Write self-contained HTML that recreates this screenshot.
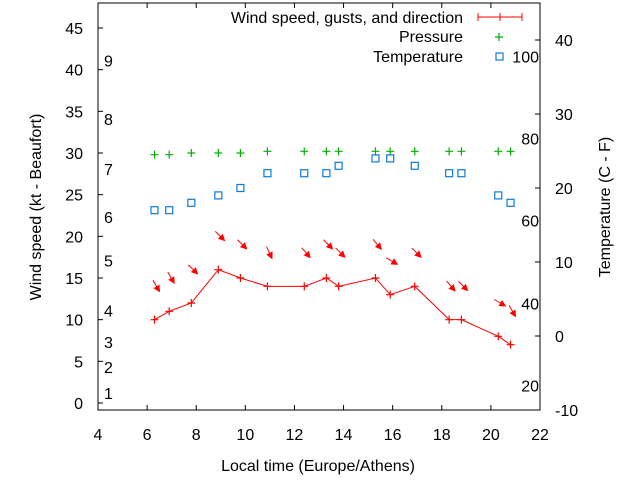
<!DOCTYPE html>
<html><head><meta charset="utf-8"><style>
html,body{margin:0;padding:0;background:#fff}
svg{display:block;font-family:"Liberation Sans",sans-serif}
</style></head><body>
<svg id="chart" width="640" height="480" xmlns="http://www.w3.org/2000/svg">
<g id="axes"></g><g id="marks"></g><g id="legend"></g>
</svg>
<script>
const times=[6.3,6.9,7.8,8.9,9.8,10.9,12.4,13.3,13.8,15.3,15.9,16.9,18.3,18.8,20.3,20.8];
const windSpeed=[10,11,12,16,15,14,14,15,14,15,13,14,10,10,8,7];
const windDir=[330,330,315,315,315,335,320,315,315,320,300,315,320,315,300,330];
const pressure=[29.8,29.8,30,30,30,30.2,30.2,30.2,30.2,30.2,30.2,30.2,30.2,30.2,30.2,30.2];
const temperature=[17,17,18,19,20,22,22,22,23,24,24,23,22,22,19,18];
const xTicks=[4,6,8,10,12,14,16,18,20,22];
const yTicks=[0,5,10,15,20,25,30,35,40,45];
const y2Ticks=[-10,0,10,20,30,40];
const beaufortLabels=[["1",1.2],["2",4.3],["3",7.3],["4",11.1],["5",17.1],["6",22.3],["7",28.1],["8",34.1],["9",41.1]];
const fahrLabels=[[20,-6.7],[40,4.4],[60,15.6],[80,26.7],[100,37.8]];

const L=98,R=540,T=3,B=410,FS=16;
const X=v=>L+(v-4)*(R-L)/18;
const Y=v=>403-v*375/45;
const Y2=v=>336-v*7.4;
const NS="http://www.w3.org/2000/svg";
function mk(p,tag,attrs,text){const e=document.createElementNS(NS,tag);for(const k in attrs)e.setAttribute(k,attrs[k]);if(text!==undefined)e.textContent=text;p.appendChild(e);return e;}
const ax=document.getElementById('axes'),mg=document.getElementById('marks'),lg=document.getElementById('legend');

let r=mk(ax,'rect',{x:L,y:T,width:R-L,height:B-T,fill:'none',stroke:'#000','stroke-width':1});

xTicks.forEach(v=>{
  mk(ax,'line',{x1:X(v),x2:X(v),y1:B,y2:B-5,stroke:'#000'});
  mk(ax,'line',{x1:X(v),x2:X(v),y1:T,y2:T+5,stroke:'#000'});
  const t=mk(ax,'text',{x:X(v),y:440,'text-anchor':'middle','font-size':FS},v);
  
});
yTicks.forEach(v=>{
  mk(ax,'line',{x1:L,x2:L+5,y1:Y(v),y2:Y(v),stroke:'#000'});
  const t=mk(ax,'text',{x:83,y:Y(v)+6,'text-anchor':'end','font-size':FS},v);
  
});
y2Ticks.forEach(v=>{
  mk(ax,'line',{x1:R,x2:R-5,y1:Y2(v),y2:Y2(v),stroke:'#000'});
  const t=mk(ax,'text',{x:555,y:Y2(v)+6,'text-anchor':'start','font-size':FS},v);
  
});
beaufortLabels.forEach(([s,v])=>{
  const t=mk(ax,'text',{x:104,y:Y(v)+6,'font-size':FS},s);
  
});
fahrLabels.forEach(([s,v])=>{
  const t=mk(ax,'text',{x:539,y:Y2(v)+6,'text-anchor':'end','font-size':FS},s);
  
});
let t=mk(ax,'text',{x:318,y:471,'text-anchor':'middle','font-size':FS},'Local time (Europe/Athens)');

t=mk(ax,'text',{x:0,y:0,'text-anchor':'middle','font-size':FS,transform:'translate(41,207) rotate(-90)'},'Wind speed (kt - Beaufort)');

t=mk(ax,'text',{x:0,y:0,'text-anchor':'middle','font-size':FS,transform:'translate(610,207) rotate(-90)'},'Temperature (C - F)');


const pts=times.map((tm,i)=>X(tm)+','+Y(windSpeed[i])).join(' ');
let pl=mk(mg,'polyline',{points:pts,fill:'none',stroke:'#f00','stroke-width':1});

times.forEach((tm,i)=>{
  const x=X(tm),y=Y(windSpeed[i]);
  const g=mk(mg,'path',{d:`M${x-4},${y}h8M${x},${y-4}v8`,stroke:'#f00','stroke-width':1.2});
  
  const ang=(windDir[i]-180)*Math.PI/180;
  const dx=Math.sin(ang),dy=-Math.cos(ang);
  const cx=x+2,cy=Y(windSpeed[i]+4),len=7;
  const x1=cx-dx*len,y1=cy-dy*len,x2=cx+dx*len,y2=cy+dy*len;
  const px=-dy,py=dx;
  const a=mk(mg,'g',{});
  
  mk(a,'line',{x1:x1,y1:y1,x2:x2-dx*3,y2:y2-dy*3,stroke:'#f00','stroke-width':1});
  mk(a,'polygon',{points:`${x2},${y2} ${x2-dx*7+px*3.5},${y2-dy*7+py*3.5} ${x2-dx*7-px*3.5},${y2-dy*7-py*3.5}`,fill:'#f00'});
});
pressure.forEach((p,i)=>{
  const x=X(times[i]),y=Y(p);
  const g=mk(mg,'path',{d:`M${x-4},${y}h8M${x},${y-4}v8`,stroke:'#00b000','stroke-width':1.2});
  
});
temperature.forEach((v,i)=>{
  const x=X(times[i]),y=Y2(v);
  const s=mk(mg,'rect',{x:x-3.5,y:y-3.5,width:7,height:7,fill:'none',stroke:'#0a7ae0','stroke-width':1.2});
  
});
t=mk(lg,'text',{x:463,y:23,'text-anchor':'end','font-size':FS},'Wind speed, gusts, and direction');

let ls=mk(lg,'path',{d:'M478,17h44M478,13v8M522,13v8M500,13v8',stroke:'#f00','stroke-width':1,fill:'none'});

t=mk(lg,'text',{x:463,y:42,'text-anchor':'end','font-size':FS},'Pressure');

ls=mk(lg,'path',{d:'M495,37h8M499,33v8',stroke:'#00b000','stroke-width':1.2});

t=mk(lg,'text',{x:463,y:62,'text-anchor':'end','font-size':FS},'Temperature');

ls=mk(lg,'rect',{x:496,y:53,width:7,height:7,fill:'none',stroke:'#0a7ae0','stroke-width':1.2});

</script>
</body></html>
